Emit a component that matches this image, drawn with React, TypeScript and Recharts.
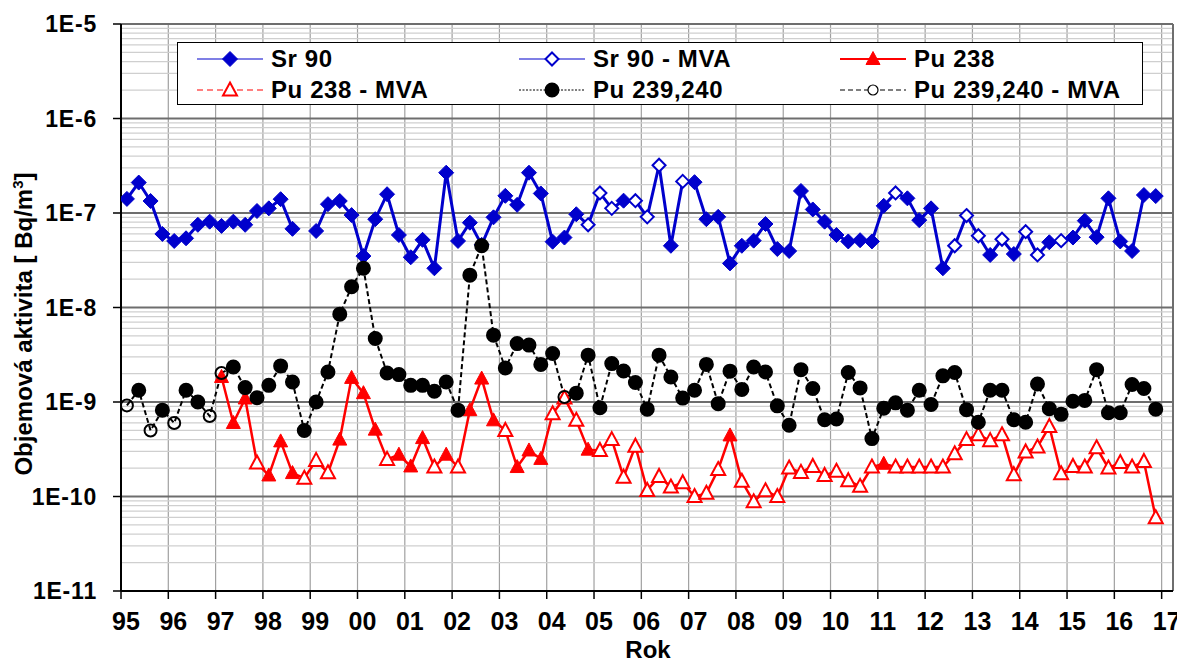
import {
  LineChart,
  Line,
  XAxis,
  YAxis,
  CartesianGrid,
  ReferenceLine,
} from "recharts";

const _ = null;

const years = [
  1995, 1996, 1997, 1998, 1999, 2000, 2001, 2002, 2003, 2004, 2005, 2006,
  2007, 2008, 2009, 2010, 2011, 2012, 2013, 2014, 2015, 2016,
];
// samples sit in the middle of each quarter
const quarterOffsets = [0.125, 0.375, 0.625, 0.875];

// Sr 90, measured (filled diamonds)
const sr90 = [
  1.41e-7, 2.1e-7, 1.34e-7, 6.0e-8,
  5.06e-8, 5.4e-8, 7.5e-8, 8.1e-8,
  7.3e-8, 8.1e-8, 7.5e-8, 1.05e-7,
  1.12e-7, 1.4e-7, 6.8e-8, _,
  6.45e-8, 1.24e-7, 1.34e-7, 9.5e-8,
  3.5e-8, 8.6e-8, 1.58e-7, 5.85e-8,
  3.4e-8, 5.2e-8, 2.6e-8, 2.67e-7,
  5.06e-8, 7.9e-8, 4.6e-8, 9.0e-8,
  1.52e-7, 1.22e-7, 2.67e-7, 1.61e-7,
  4.97e-8, 5.5e-8, 9.7e-8, _,
  _, _, 1.35e-7, _,
  _, _, 4.5e-8, _,
  2.12e-7, 8.6e-8, 9.1e-8, 2.93e-8,
  4.5e-8, 5.1e-8, 7.65e-8, 4.16e-8,
  3.96e-8, 1.71e-7, 1.09e-7, 8.1e-8,
  5.85e-8, 5.0e-8, 5.15e-8, 5.0e-8,
  1.19e-7, _, 1.43e-7, 8.4e-8,
  1.12e-7, 2.6e-8, _, _,
  _, 3.6e-8, _, 3.68e-8,
  _, _, 4.9e-8, _,
  5.5e-8, 8.3e-8, 5.55e-8, 1.43e-7,
  5.0e-8, 3.96e-8, 1.55e-7, 1.51e-7,
];

// Sr 90 below MVA (hollow diamonds)
const sr90Mva = [
  _, _, _, _,
  _, _, _, _,
  _, _, _, _,
  _, _, _, _,
  _, _, _, _,
  _, _, _, _,
  _, _, _, _,
  _, _, _, _,
  _, _, _, _,
  _, _, _, 7.5e-8,
  1.63e-7, 1.12e-7, _, 1.35e-7,
  9.1e-8, 3.2e-7, _, 2.16e-7,
  _, _, _, _,
  _, _, _, _,
  _, _, _, _,
  _, _, _, _,
  _, 1.63e-7, _, _,
  _, _, 4.5e-8, 9.4e-8,
  5.75e-8, _, 5.27e-8, _,
  6.34e-8, 3.6e-8, _, 5.1e-8,
  _, _, _, _,
  _, _, _, _,
];

// Pu 238, measured (filled triangles)
const pu238 = [
  _, _, _, _,
  _, _, _, _,
  1.84e-9, 6.0e-10, 1.09e-9, _,
  1.67e-10, 3.83e-10, 1.77e-10, _,
  _, _, 4.0e-10, 1.8e-9,
  1.24e-9, 5.1e-10, _, 2.77e-10,
  2.08e-10, 4.15e-10, _, 2.77e-10,
  _, 8.2e-10, 1.77e-9, 6.4e-10,
  _, 2.05e-10, 3.07e-10, 2.5e-10,
  _, _, _, 3.13e-10,
  _, _, _, _,
  _, _, _, _,
  _, _, _, 4.43e-10,
  _, _, _, _,
  _, _, _, _,
  _, _, _, _,
  2.22e-10, _, _, _,
  _, _, _, _,
  _, _, _, _,
  _, _, _, _,
  _, _, _, _,
  _, _, _, _,
];

// Pu 238 below MVA (hollow triangles)
const pu238Mva = [
  _, _, _, _,
  _, _, _, _,
  _, _, _, 2.26e-10,
  _, _, _, 1.56e-10,
  2.41e-10, 1.78e-10, _, _,
  _, _, 2.47e-10, _,
  _, _, 2.05e-10, _,
  2.05e-10, _, _, _,
  5.0e-10, _, _, _,
  7.5e-10, 1.1e-9, 6.4e-10, _,
  3.07e-10, 4.0e-10, 1.6e-10, 3.41e-10,
  1.16e-10, 1.63e-10, 1.26e-10, 1.4e-10,
  1.0e-10, 1.08e-10, 1.93e-10, _,
  1.45e-10, 8.8e-11, 1.15e-10, 1.0e-10,
  2.0e-10, 1.8e-10, 2.08e-10, 1.67e-10,
  1.85e-10, 1.47e-10, 1.28e-10, 2.05e-10,
  _, 2.05e-10, 2.05e-10, 2.05e-10,
  2.05e-10, 2.05e-10, 2.83e-10, 4.0e-10,
  4.5e-10, 3.9e-10, 4.5e-10, 1.7e-10,
  2.96e-10, 3.34e-10, 5.5e-10, 1.74e-10,
  2.08e-10, 2.05e-10, 3.28e-10, 2.0e-10,
  2.29e-10, 2.05e-10, 2.35e-10, 5.96e-11,
];

// Pu 239,240, measured (filled circles)
const pu239 = [
  _, 1.33e-9, _, 8.2e-10,
  _, 1.33e-9, 1.0e-9, _,
  _, 2.35e-9, 1.42e-9, 1.11e-9,
  1.5e-9, 2.41e-9, 1.63e-9, 5.0e-10,
  1.0e-9, 2.08e-9, 8.5e-9, 1.66e-8,
  2.6e-8, 4.7e-9, 2.03e-9, 1.95e-9,
  1.5e-9, 1.5e-9, 1.3e-9, 1.63e-9,
  8.2e-10, 2.2e-8, 4.5e-8, 5.1e-9,
  2.29e-9, 4.15e-9, 4.0e-9, 2.5e-9,
  3.26e-9, _, 1.24e-9, 3.13e-9,
  8.7e-10, 2.55e-9, 2.13e-9, 1.61e-9,
  8.4e-10, 3.13e-9, 1.84e-9, 1.1e-9,
  1.33e-9, 2.5e-9, 9.6e-10, 2.12e-9,
  1.36e-9, 2.35e-9, 2.08e-9, 9.1e-10,
  5.67e-10, 2.2e-9, 1.39e-9, 6.5e-10,
  6.6e-10, 2.05e-9, 1.41e-9, 4.1e-10,
  8.6e-10, 9.8e-10, 8.2e-10, 1.33e-9,
  9.4e-10, 1.89e-9, 2.05e-9, 8.3e-10,
  6.1e-10, 1.33e-9, 1.33e-9, 6.5e-10,
  6.1e-10, 1.55e-9, 8.5e-10, 7.4e-10,
  1.02e-9, 1.04e-9, 2.2e-9, 7.7e-10,
  7.7e-10, 1.53e-9, 1.39e-9, 8.4e-10,
];

// Pu 239,240 below MVA (hollow circles)
const pu239Mva = [
  9.2e-10, _, 5.0e-10, _,
  6.0e-10, _, _, 7.1e-10,
  2.03e-9, _, _, _,
  _, _, _, _,
  _, _, _, _,
  _, _, _, _,
  _, _, _, _,
  _, _, _, _,
  _, _, _, _,
  _, 1.13e-9, _, _,
  _, _, _, _,
  _, _, _, _,
  _, _, _, _,
  _, _, _, _,
  _, _, _, _,
  _, _, _, _,
  _, _, _, _,
  _, _, _, _,
  _, _, _, _,
  _, _, _, _,
  _, _, _, _,
  _, _, _, _,
];

const yearTicks = [
  1995, 1996, 1997, 1998, 1999, 2000, 2001, 2002, 2003, 2004, 2005, 2006,
  2007, 2008, 2009, 2010, 2011, 2012, 2013, 2014, 2015, 2016, 2017,
];
const decadeTicks = [1e-11, 1e-10, 1e-9, 1e-8, 1e-7, 1e-6, 1e-5];
const minorSteps = [2, 3, 4, 5, 6, 7, 8, 9];
const X_MAX = 2017.24;

const BLUE = "#0000CC";
const RED = "#FF0000";
const BLACK = "#000000";
const FONT = '"Liberation Sans", Arial, Helvetica, sans-serif';

const times = years.flatMap((y) => quarterOffsets.map((o) => y + o));
const data = times.map((t, i) => ({
  t,
  sr: sr90[i] ?? sr90Mva[i],
  srF: sr90[i],
  srM: sr90Mva[i],
  p8: pu238[i] ?? pu238Mva[i],
  p8F: pu238[i],
  p8M: pu238Mva[i],
  p9: pu239[i] ?? pu239Mva[i],
  p9F: pu239[i],
  p9M: pu239Mva[i],
}));

const minorLines = decadeTicks
  .slice(0, -1)
  .flatMap((d) => minorSteps.map((m) => m * d));

const empty = (index: number) => <g key={`e-${index}`} />;
const missing = (p: any) =>
  p.value == null || p.cx == null || p.cy == null || Number.isNaN(p.cy);

const diamondDot = (filled: boolean) => (p: any) => {
  if (missing(p)) return empty(p.index);
  const { cx, cy } = p;
  const r = filled ? 7.5 : 6.5;
  return (
    <polygon
      key={`d-${p.index}`}
      points={`${cx},${cy - r} ${cx + r},${cy} ${cx},${cy + r} ${cx - r},${cy}`}
      fill={filled ? BLUE : "#fff"}
      stroke={BLUE}
      strokeWidth={filled ? 1 : 2}
    />
  );
};

const triangleDot = (filled: boolean) => (p: any) => {
  if (missing(p)) return empty(p.index);
  const { cx, cy } = p;
  return (
    <polygon
      key={`t-${p.index}`}
      points={`${cx},${cy - 7.5} ${cx + 7},${cy + 5.5} ${cx - 7},${cy + 5.5}`}
      fill={filled ? RED : "#fff"}
      stroke={RED}
      strokeWidth={filled ? 1 : 2}
    />
  );
};

const circleDot = (filled: boolean) => (p: any) => {
  if (missing(p)) return empty(p.index);
  return (
    <circle
      key={`c-${p.index}`}
      cx={p.cx}
      cy={p.cy}
      r={filled ? 6.5 : 6}
      fill={filled ? BLACK : "none"}
      stroke={BLACK}
      strokeWidth={2}
    />
  );
};

const XTick = ({ x, y, payload }: any) => (
  <text
    x={x + 5}
    y={y + 29}
    textAnchor="middle"
    fontFamily={FONT}
    fontWeight="bold"
    fontSize={25}
    fill="#000"
  >
    {String(payload.value % 100).padStart(2, "0")}
  </text>
);

const YTick = ({ x, y, payload }: any) => (
  <text
    x={x - 14}
    y={y + 8}
    textAnchor="end"
    fontFamily={FONT}
    fontWeight="bold"
    fontSize={23}
    letterSpacing={0.8}
    fill="#000"
  >
    {`1E${Math.round(Math.log10(payload.value))}`}
  </text>
);

const YLabel = () => (
  <text
    x={24}
    y={316}
    transform="rotate(-90, 24, 316)"
    textAnchor="middle"
    fontFamily={FONT}
    fontWeight="bold"
    fontSize={24}
    fill="#000"
  >
    Objemová aktivita [ Bq/m
    <tspan dy={-9} fontSize={15}>
      3
    </tspan>
    <tspan dy={9}>]</tspan>
  </text>
);

const XLabel = () => (
  <text
    x={640}
    y={650}
    textAnchor="middle"
    fontFamily={FONT}
    fontWeight="bold"
    fontSize={24}
    fill="#000"
  >
    Rok
  </text>
);

// legend samples
const Sample = ({ kind }: { kind: string }) => {
  const mid = 33;
  const cy = 10;
  let line = null;
  let marker = null;
  if (kind === "sr") {
    line = <line x1={0} x2={66} y1={cy} y2={cy} stroke={BLUE} strokeWidth={1.2} />;
    marker = diamondDot(true)({ cx: mid, cy, value: 1, index: 0 });
  } else if (kind === "srM") {
    line = <line x1={0} x2={66} y1={cy} y2={cy} stroke={BLUE} strokeWidth={1.2} />;
    marker = diamondDot(false)({ cx: mid, cy, value: 1, index: 0 });
  } else if (kind === "p8") {
    line = <line x1={0} x2={66} y1={cy} y2={cy} stroke={RED} strokeWidth={2} />;
    marker = triangleDot(true)({ cx: mid, cy, value: 1, index: 0 });
  } else if (kind === "p8M") {
    line = (
      <line x1={0} x2={66} y1={cy} y2={cy} stroke={RED} strokeWidth={1.2} strokeDasharray="6 4" />
    );
    marker = triangleDot(false)({ cx: mid, cy, value: 1, index: 0 });
  } else if (kind === "p9") {
    line = (
      <line x1={0} x2={66} y1={cy} y2={cy} stroke={BLACK} strokeWidth={1} strokeDasharray="2 1.5" />
    );
    marker = circleDot(true)({ cx: mid, cy, value: 1, index: 0 });
  } else {
    line = (
      <line x1={0} x2={66} y1={cy} y2={cy} stroke={BLACK} strokeWidth={1.2} strokeDasharray="5 3" />
    );
    marker = (
      <circle cx={mid} cy={cy} r={5} fill="#fff" stroke={BLACK} strokeWidth={1.2} />
    );
  }
  return (
    <svg width={66} height={20} style={{ display: "block" }}>
      {line}
      {marker}
    </svg>
  );
};

const legendItems = [
  { kind: "sr", label: "Sr 90", col: 0, row: 0 },
  { kind: "srM", label: "Sr 90 - MVA", col: 1, row: 0 },
  { kind: "p8", label: "Pu 238", col: 2, row: 0 },
  { kind: "p8M", label: "Pu 238 - MVA", col: 0, row: 1 },
  { kind: "p9", label: "Pu 239,240", col: 1, row: 1 },
  { kind: "p9M", label: "Pu 239,240 - MVA", col: 2, row: 1 },
];
const legendCols = [19, 341, 662];
const legendRows = [16, 47];

const ChartLegend = () => (
  <div
    style={{
      position: "absolute",
      left: 169,
      top: 34,
      width: 966,
      height: 63,
      boxSizing: "border-box",
      border: "1.5px solid #000",
      background: "#fff",
      fontFamily: FONT,
    }}
  >
    {legendItems.map((it) => (
      <div
        key={it.label}
        style={{
          position: "absolute",
          left: legendCols[it.col],
          top: legendRows[it.row] - 15,
          height: 30,
          display: "flex",
          alignItems: "center",
          whiteSpace: "nowrap",
        }}
      >
        <Sample kind={it.kind} />
        <span
          style={{
            marginLeft: 8,
            fontWeight: "bold",
            fontSize: 24,
            lineHeight: "30px",
            letterSpacing: 0.6,
          }}
        >
          {it.label}
        </span>
      </div>
    ))}
  </div>
);

export default function App() {
  return (
    <div style={{ position: "relative", width: 1177, height: 656 }}>
      <LineChart
        width={1177}
        height={656}
        data={data}
        margin={{ top: 16, right: 12, left: 0, bottom: 0 }}
      >
        <CartesianGrid vertical horizontal={false} stroke="#a0a0a0" strokeWidth={1.2} />
        {minorLines.map((v) => (
          <ReferenceLine key={`m-${v}`} y={v} stroke="#cfcfcf" strokeWidth={1.2} />
        ))}
        {decadeTicks.map((v) => (
          <ReferenceLine key={`M-${v}`} y={v} stroke="#6e6e6e" strokeWidth={2} />
        ))}
        <ReferenceLine x={X_MAX} stroke="#6e6e6e" strokeWidth={2} />
        <XAxis
          dataKey="t"
          type="number"
          domain={[1995, X_MAX]}
          ticks={yearTicks}
          interval={0}
          allowDataOverflow
          height={73}
          tickSize={8}
          tick={<XTick />}
          axisLine={{ stroke: "#000", strokeWidth: 2 }}
          tickLine={{ stroke: "#000", strokeWidth: 1.5 }}
          label={<XLabel />}
        />
        <YAxis
          type="number"
          scale="log"
          domain={[1e-11, 1e-5]}
          ticks={decadeTicks}
          interval={0}
          allowDataOverflow
          width={113}
          tickSize={8}
          tick={<YTick />}
          axisLine={{ stroke: "#000", strokeWidth: 2 }}
          tickLine={{ stroke: "#000", strokeWidth: 1.5 }}
          label={<YLabel />}
        />

        <Line dataKey="sr" stroke={BLUE} strokeWidth={3} dot={false} activeDot={false} isAnimationActive={false} />
        <Line dataKey="srF" stroke="none" dot={diamondDot(true)} activeDot={false} isAnimationActive={false} />
        <Line dataKey="srM" stroke="none" dot={diamondDot(false)} activeDot={false} isAnimationActive={false} />

        <Line dataKey="p8" stroke={RED} strokeWidth={2.5} dot={false} activeDot={false} isAnimationActive={false} />
        <Line dataKey="p8F" stroke="none" dot={triangleDot(true)} activeDot={false} isAnimationActive={false} />
        <Line dataKey="p8M" stroke="none" dot={triangleDot(false)} activeDot={false} isAnimationActive={false} />

        <Line dataKey="p9" stroke={BLACK} strokeWidth={2} strokeDasharray="5 3" dot={false} activeDot={false} isAnimationActive={false} />
        <Line dataKey="p9F" stroke="none" dot={circleDot(true)} activeDot={false} isAnimationActive={false} />
        <Line dataKey="p9M" stroke="none" dot={circleDot(false)} activeDot={false} isAnimationActive={false} />
      </LineChart>
      <ChartLegend />
    </div>
  );
}
